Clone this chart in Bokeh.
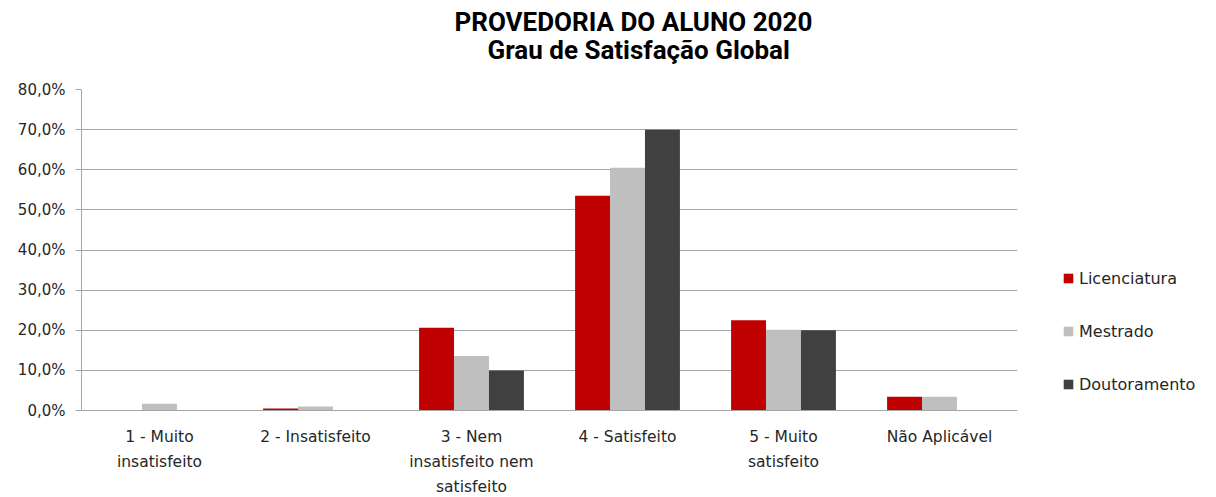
from bokeh.plotting import figure
from bokeh.models import ColumnDataSource, FactorRange, Range1d, FixedTicker, Legend, LegendItem, Title
from bokeh.transform import dodge
from bokeh.embed import file_html
from bokeh.resources import INLINE

categories = ["1 - Muito\ninsatisfeito", "2 - Insatisfeito", "3 - Nem\ninsatisfeito nem\nsatisfeito",
              "4 - Satisfeito", "5 - Muito\nsatisfeito", "Não Aplicável"]
licenciatura = [0.0, 0.5, 20.6, 53.5, 22.5, 3.4]
mestrado = [1.7, 1.0, 13.6, 60.5, 20.1, 3.4]
doutoramento = [0.0, 0.0, 10.0, 70.0, 20.0, 0.0]
series_names = ["Licenciatura", "Mestrado", "Doutoramento"]
y_ticks = [0, 10, 20, 30, 40, 50, 60, 70, 80]
y_tick_labels = ["0,0%", "10,0%", "20,0%", "30,0%", "40,0%", "50,0%", "60,0%", "70,0%", "80,0%"]
title_lines = ["PROVEDORIA DO ALUNO 2020", "Grau de Satisfação Global"]

colors = ["#C00000", "#BFBFBF", "#404040"]

src = ColumnDataSource(dict(cat=categories, lic=licenciatura, mes=mestrado, dou=doutoramento))

p = figure(x_range=FactorRange(*categories), y_range=Range1d(0, 80),
           width=1216, height=497, output_backend="svg", toolbar_location=None,
           min_border_left=81, min_border_right=199, min_border_top=89, min_border_bottom=87)
p.frame_width = 936
p.frame_height = 321

bw = 0.224
r1 = p.vbar(x=dodge("cat", -bw, range=p.x_range), top="lic", width=bw, source=src, color=colors[0], line_color=None)
r2 = p.vbar(x=dodge("cat", 0, range=p.x_range), top="mes", width=bw, source=src, color=colors[1], line_color=None)
r3 = p.vbar(x=dodge("cat", bw, range=p.x_range), top="dou", width=bw, source=src, color=colors[2], line_color=None)

p.outline_line_color = None
p.xgrid.grid_line_color = None
p.ygrid.grid_line_color = "#A6A6A6"
p.ygrid.grid_line_width = 1
p.yaxis.ticker = FixedTicker(ticks=y_ticks)
p.yaxis.major_label_overrides = {t: l for t, l in zip(y_ticks, y_tick_labels)}
p.yaxis.major_label_text_font = "DejaVu Sans"
p.yaxis.major_label_text_font_size = "15px"
p.yaxis.major_label_text_color = "#262626"
p.yaxis.axis_line_color = "#A6A6A6"
p.yaxis.major_tick_line_color = "#A6A6A6"
p.yaxis.major_tick_out = 6
p.yaxis.major_tick_in = 0
p.yaxis.minor_tick_line_color = None
p.yaxis.major_label_standoff = 10

p.xaxis.axis_line_color = "#A6A6A6"
p.xaxis.major_tick_line_color = None
p.xaxis.minor_tick_line_color = None
p.xaxis.major_label_text_font = "DejaVu Sans"
p.xaxis.major_label_text_font_size = "15.5px"
p.xaxis.major_label_text_line_height = 1.39
p.xaxis.major_label_text_color = "#262626"
p.xaxis.major_label_standoff = 11
p.xaxis.major_label_orientation = "horizontal"

legend = Legend(items=[LegendItem(label=series_names[0], renderers=[r1]),
                       LegendItem(label=series_names[1], renderers=[r2]),
                       LegendItem(label=series_names[2], renderers=[r3])],
                location=(45, 16), orientation="vertical",
                glyph_width=12, glyph_height=12, label_height=20, spacing=33,
                label_standoff=5, padding=0, margin=0,
                border_line_color=None, background_fill_alpha=0,
                label_text_font="DejaVu Sans", label_text_font_size="16px", label_text_color="#262626")
p.add_layout(legend, "right")

spacer = Title(text=" ", text_font_size="10px", standoff=12)
t2 = Title(text=title_lines[1], align="left", offset=406, text_font="Roboto", text_font_size="26px",
           text_font_style="bold", text_color="#000000", standoff=0)
t1 = Title(text=title_lines[0], align="left", offset=373, text_font="Roboto", text_font_size="26px",
           text_font_style="bold", text_color="#000000", standoff=-8)
p.add_layout(spacer, "above")
p.add_layout(t2, "above")
p.add_layout(t1, "above")

open("out.html", "w").write(file_html(p, INLINE))
